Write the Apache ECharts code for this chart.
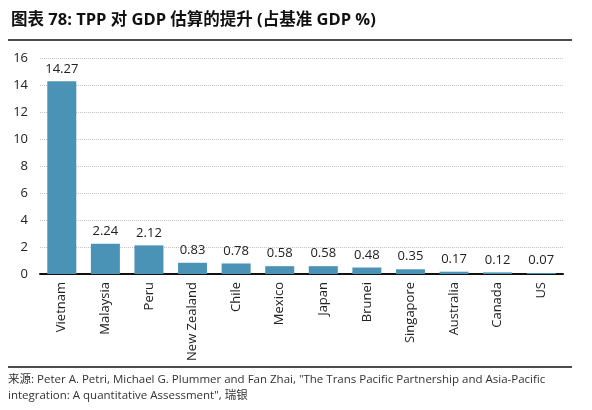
<!DOCTYPE html>
<html lang="zh">
<head>
<meta charset="UTF-8">
<title>TPP GDP</title>
<script src="https://cdn.jsdelivr.net/npm/echarts@6/dist/echarts.min.js"></script>
<style>
  html, body { margin: 0; padding: 0; background: #fff; }
  #main { width: 592px; height: 410px; }
</style>
</head>
<body>
<div id="main"></div>
<script>
// 数据
var countries = ['Vietnam', 'Malaysia', 'Peru', 'New Zealand', 'Chile', 'Mexico', 'Japan', 'Brunei', 'Singapore', 'Australia', 'Canada', 'US'];
var gains = [14.27, 2.24, 2.12, 0.83, 0.78, 0.58, 0.58, 0.48, 0.35, 0.17, 0.12, 0.07];
var yTicks = [0, 2, 4, 6, 8, 10, 12, 14, 16];

var font = '"Open Sans", "Noto Sans", "Noto Sans CJK SC", sans-serif';
var chart = echarts.init(document.getElementById('main'));

var option = {
  animation: false,
  title: {
    text: '图表 78: TPP 对 GDP 估算的提升 (占基准 GDP %)',
    left: 6,
    top: 7,
    textStyle: { fontFamily: font, fontSize: 16.5, fontWeight: 'bold', color: '#111' }
  },
  grid: { left: 40, right: 29, top: 58, bottom: 136 },
  xAxis: {
    type: 'category',
    data: countries,
    axisLine: { lineStyle: { color: '#111', width: 2 } },
    axisTick: { show: false },
    axisLabel: { rotate: 90, fontFamily: font, fontSize: 13, color: '#222', margin: 8 }
  },
  yAxis: {
    type: 'value',
    min: yTicks[0],
    max: yTicks[yTicks.length - 1],
    interval: 2,
    axisLine: { show: false },
    axisTick: { show: false },
    axisLabel: { fontFamily: font, fontSize: 13, color: '#222', margin: 12 },
    splitLine: { lineStyle: { color: '#c4c4c4', type: 'dotted', width: 1 } }
  },
  series: [{
    type: 'bar',
    data: gains,
    barWidth: 29,
    itemStyle: { color: '#4a92b6' },
    label: {
      show: true,
      position: 'top',
      distance: 6,
      fontFamily: font,
      fontSize: 13,
      color: '#222',
      formatter: function (p) { return p.value.toFixed(2); }
    }
  }],
  graphic: [
    { type: 'line', shape: { x1: 8, y1: 40, x2: 572, y2: 40 }, style: { stroke: '#111', lineWidth: 1.5 } },
    { type: 'line', shape: { x1: 8, y1: 367, x2: 572, y2: 367 }, style: { stroke: '#111', lineWidth: 1.5 } },
    {
      type: 'text', left: 8, top: 372,
      style: {
        text: '来源: Peter A. Petri, Michael G. Plummer and Fan Zhai, "The Trans Pacific Partnership and Asia-Pacific\nintegration: A quantitative Assessment", 瑞银',
        font: '11.5px ' + font,
        fill: '#333',
        lineHeight: 16
      }
    }
  ]
};
chart.setOption(option);
</script>
</body>
</html>
